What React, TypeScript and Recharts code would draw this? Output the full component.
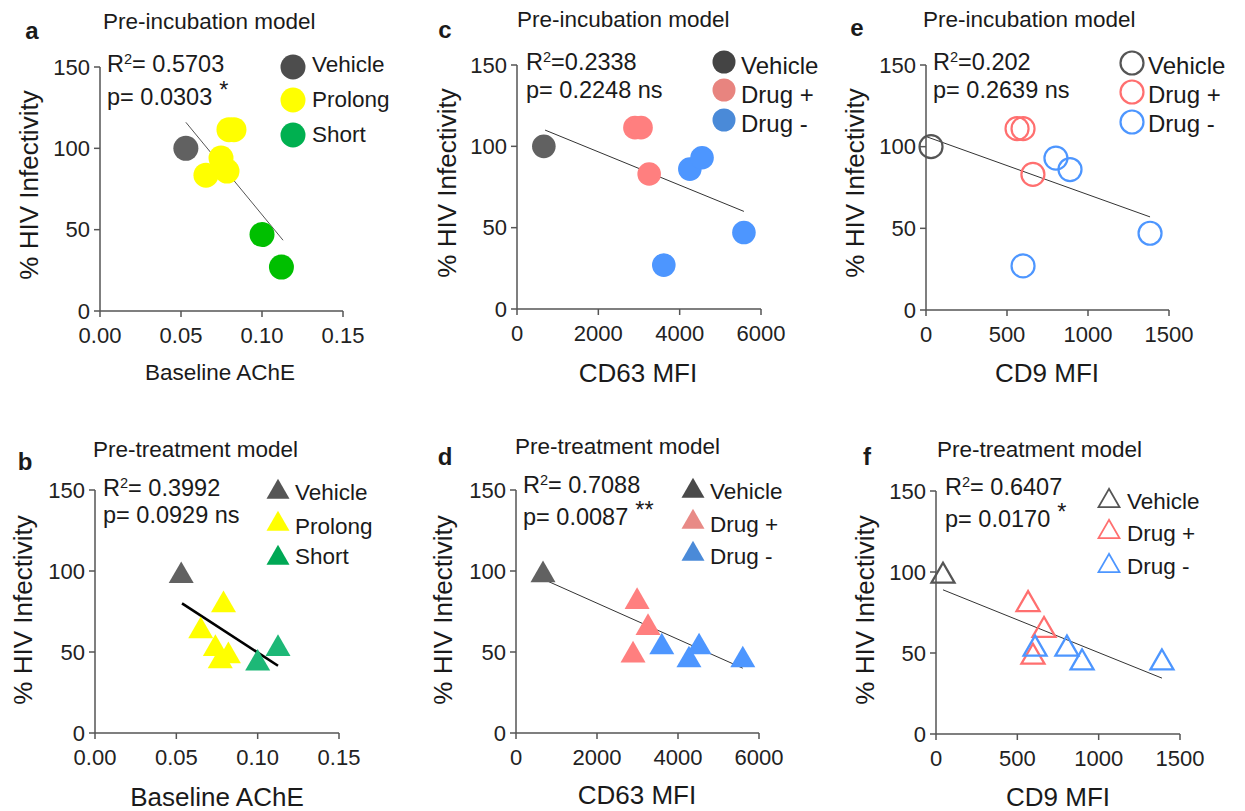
import React from "react";
import { ScatterChart, Scatter, XAxis, YAxis, ReferenceLine } from "recharts";

// ---- data ----
const yTicks = [0, 50, 100, 150];
const acheTicks = [0, 0.05, 0.1, 0.15];
const cd63Ticks = [0, 2000, 4000, 6000];
const cd9Ticks = [0, 500, 1000, 1500];

// a: pre-incubation, baseline AChE
const aVehicle = [{ x: 0.053, y: 100 }];
const aProlong = [
  { x: 0.0796, y: 111.5 },
  { x: 0.0827, y: 111.5 },
  { x: 0.0747, y: 94 },
  { x: 0.0784, y: 86 },
  { x: 0.0654, y: 83.5 },
];
const aShort = [
  { x: 0.1, y: 47 },
  { x: 0.112, y: 27 },
];
const aFit = [
  { x: 0.053, y: 116 },
  { x: 0.113, y: 43.5 },
];

// b: pre-treatment, baseline AChE
const bVehicle = [{ x: 0.053, y: 97 }];
const bProlong = [
  { x: 0.079, y: 79 },
  { x: 0.065, y: 63 },
  { x: 0.074, y: 52 },
  { x: 0.082, y: 47.5 },
  { x: 0.077, y: 44.5 },
];
const bShort = [
  { x: 0.1, y: 43 },
  { x: 0.1125, y: 52 },
];
const bFit = [
  { x: 0.0535, y: 80 },
  { x: 0.1125, y: 41.5 },
];

// c: pre-incubation, CD63
const cVehicle = [{ x: 660, y: 100 }];
const cDrugPlus = [
  { x: 2900, y: 111.5 },
  { x: 3050, y: 111.5 },
  { x: 3250, y: 83 },
];
const cDrugMinus = [
  { x: 4250, y: 86 },
  { x: 4550, y: 93 },
  { x: 5580, y: 47 },
  { x: 3610, y: 27 },
];
const cFit = [
  { x: 690, y: 110 },
  { x: 5580, y: 60 },
];

// d: pre-treatment, CD63
const dVehicle = [{ x: 667, y: 97.5 }];
const dDrugPlus = [
  { x: 2990, y: 81 },
  { x: 3260, y: 65 },
  { x: 2890, y: 48 },
];
const dDrugMinus = [
  { x: 3600, y: 53 },
  { x: 4270, y: 45 },
  { x: 4520, y: 53 },
  { x: 5600, y: 45 },
];
const dFit = [
  { x: 667, y: 95 },
  { x: 5600, y: 40 },
];

// e: pre-incubation, CD9
const eVehicle = [{ x: 31, y: 100 }];
const eDrugPlus = [
  { x: 562, y: 111 },
  { x: 599, y: 111 },
  { x: 660, y: 83 },
];
const eDrugMinus = [
  { x: 802, y: 93 },
  { x: 889, y: 86 },
  { x: 1383, y: 47 },
  { x: 599, y: 27 },
];
const eFit = [
  { x: 6, y: 106 },
  { x: 1383, y: 57 },
];

// f: pre-treatment, CD9
const fVehicle = [{ x: 43, y: 97.5 }];
const fDrugPlus = [
  { x: 566, y: 80 },
  { x: 664, y: 64 },
  { x: 596, y: 47.5 },
];
const fDrugMinus = [
  { x: 609, y: 52.5 },
  { x: 805, y: 52.5 },
  { x: 898, y: 44 },
  { x: 1389, y: 44 },
];
const fFit = [
  { x: 43, y: 89 },
  { x: 1389, y: 34.5 },
];

// ---- styling ----
const FONT = '"Liberation Sans", Arial, sans-serif';
const TEXT = "#1a1a1a";
const AXIS = "#555";
const GRAY = "#616161";
const YELLOW = "#ffff00";
const GREEN = "#00bf00";
const TEAL = "#1db877";
const SALMON = "#ff7f7f";
const BLUE = "#4d96ff";

type Pt = { x: number; y: number };
type Marker = { kind: "circle" | "triangle"; open?: boolean; size: number; sw?: number };
type Series = { name: string; data: Pt[]; color: string; legendColor: string };

const drawMarker = (m: Marker, color: string, cx: number, cy: number, key?: string) => {
  const fill = m.open ? "none" : color;
  const stroke = m.open ? color : "none";
  const sw = m.open ? m.sw ?? 2 : 0;
  if (m.kind === "circle") {
    return <circle key={key} cx={cx} cy={cy} r={m.size} fill={fill} stroke={stroke} strokeWidth={sw} />;
  }
  const s = m.size;
  const h = (s * Math.sqrt(3)) / 2;
  const pts = `${cx},${cy - (2 * h) / 3} ${cx - s / 2},${cy + h / 3} ${cx + s / 2},${cy + h / 3}`;
  return <polygon key={key} points={pts} fill={fill} stroke={stroke} strokeWidth={sw} strokeLinejoin="miter" />;
};

type PanelCfg = {
  letter: string;
  letterPos: [number, number];
  title: string;
  titlePos: [number, number];
  plot: [number, number, number, number];
  xDomain: [number, number];
  xTicks: number[];
  xFmt: (v: number) => string;
  xLabel: string;
  xLabelPos: [number, number];
  xLabelSize: number;
  yLabelPos: [number, number];
  r2: string;
  p: string;
  star?: string;
  statsLeft: number;
  statsRows: [number, number];
  series: Series[];
  fit: Pt[];
  fitWidth: number;
  fitColor: string;
  marker: Marker;
  legendMarker: Marker;
  legendX: number;
  legendMarkerRows: number[];
  legendTextX: number;
  legendTextRows: number[];
  legendSize: number;
};

const YW = 60;
const MT = 15;
const MR = 32;
const XH = 40;

const abs = (left: number, top: number, extra: React.CSSProperties = {}): React.CSSProperties => ({
  position: "absolute",
  left,
  top,
  lineHeight: 1,
  whiteSpace: "nowrap",
  color: TEXT,
  ...extra,
});

const Panel = ({ cfg }: { cfg: PanelCfg }) => {
  const [x0, y0, x1, y1] = cfg.plot;
  const w = x1 - x0 + YW + MR;
  const h = y1 - y0 + MT + XH;
  const m = cfg.marker;
  return (
    <>
      <div style={{ position: "absolute", left: x0 - YW, top: y0 - MT }}>
        <ScatterChart width={w} height={h} margin={{ top: MT, right: MR, bottom: 0, left: 0 }}>
          <XAxis
            type="number"
            dataKey="x"
            domain={cfg.xDomain}
            ticks={cfg.xTicks}
            tickFormatter={cfg.xFmt}
            height={XH}
            tickSize={6}
            tickMargin={10}
            interval={0}
            axisLine={{ stroke: AXIS, strokeWidth: 1.5 }}
            tickLine={{ stroke: AXIS, strokeWidth: 1.5 }}
            tick={{ fontSize: 22, fill: "#222" }}
          />
          <YAxis
            type="number"
            dataKey="y"
            domain={[0, 150]}
            ticks={yTicks}
            width={YW}
            tickSize={6}
            tickMargin={4}
            interval={0}
            axisLine={{ stroke: AXIS, strokeWidth: 1.5 }}
            tickLine={{ stroke: AXIS, strokeWidth: 1.5 }}
            tick={{ fontSize: 22, fill: "#222" }}
          />
          {cfg.series.map((s) => (
            <Scatter
              key={s.name}
              name={s.name}
              data={s.data}
              isAnimationActive={false}
              shape={(p: any) => drawMarker(m, s.color, p.cx, p.cy)}
            />
          ))}
          <ReferenceLine
            segment={[cfg.fit[0], cfg.fit[1]]}
            stroke={cfg.fitColor}
            strokeWidth={cfg.fitWidth}
            ifOverflow="visible"
          />
        </ScatterChart>
      </div>

      <div style={abs(cfg.letterPos[0], cfg.letterPos[1], { fontSize: 24, fontWeight: 700, transform: "translate(-50%,-50%)" })}>
        {cfg.letter}
      </div>
      <div style={abs(cfg.titlePos[0], cfg.titlePos[1], { fontSize: 22.5, transform: "translateY(-50%)" })}>
        {cfg.title}
      </div>

      <div style={abs(cfg.statsLeft, cfg.statsRows[0], { fontSize: 23.5, transform: "translateY(-50%)" })}>
        R<span style={{ fontSize: "0.62em", position: "relative", top: "-0.55em" }}>2</span>
        {cfg.r2}
      </div>
      <div style={abs(cfg.statsLeft, cfg.statsRows[1], { fontSize: 23.5, transform: "translateY(-50%)" })}>
        {cfg.p}
        {cfg.star && (
          <span style={{ position: "relative", top: "-0.3em", marginLeft: "0.3em" }}>{cfg.star}</span>
        )}
      </div>

      <div
        style={abs(cfg.yLabelPos[0], cfg.yLabelPos[1], {
          fontSize: 26,
          transform: "translate(-50%,-50%) rotate(-90deg)",
        })}
      >
        % HIV Infectivity
      </div>
      <div style={abs(cfg.xLabelPos[0], cfg.xLabelPos[1], { fontSize: cfg.xLabelSize, transform: "translate(-50%,-50%)" })}>
        {cfg.xLabel}
      </div>

      <svg style={{ position: "absolute", left: 0, top: 0, overflow: "visible" }} width={1} height={1}>
        {cfg.series.map((s, i) =>
          drawMarker(cfg.legendMarker, s.legendColor, cfg.legendX, cfg.legendMarkerRows[i], s.name)
        )}
      </svg>
      {cfg.series.map((s, i) => (
        <div
          key={s.name}
          style={abs(cfg.legendTextX, cfg.legendTextRows[i], { fontSize: cfg.legendSize, transform: "translateY(-50%)" })}
        >
          {s.name}
        </div>
      ))}
    </>
  );
};

const fmt2 = (v: number) => v.toFixed(2);
const fmt0 = (v: number) => String(v);

const panels: PanelCfg[] = [
  {
    letter: "a",
    letterPos: [32, 31],
    title: "Pre-incubation model",
    titlePos: [103, 22],
    plot: [100, 67, 343, 311],
    xDomain: [0, 0.15],
    xTicks: acheTicks,
    xFmt: fmt2,
    xLabel: "Baseline AChE",
    xLabelPos: [220, 373],
    xLabelSize: 22.5,
    yLabelPos: [29, 185],
    r2: "= 0.5703",
    p: "p= 0.0303",
    star: "*",
    statsLeft: 107,
    statsRows: [65, 98],
    series: [
      { name: "Vehicle", data: aVehicle, color: GRAY, legendColor: "#4d4d4d" },
      { name: "Prolong", data: aProlong, color: YELLOW, legendColor: YELLOW },
      { name: "Short", data: aShort, color: GREEN, legendColor: "#00b050" },
    ],
    fit: aFit,
    fitWidth: 1,
    fitColor: "#555",
    marker: { kind: "circle", size: 12.5 },
    legendMarker: { kind: "circle", size: 12.5 },
    legendX: 293,
    legendMarkerRows: [67, 100, 135],
    legendTextX: 312,
    legendTextRows: [65, 100, 135],
    legendSize: 22.5,
  },
  {
    letter: "c",
    letterPos: [445, 30],
    title: "Pre-incubation model",
    titlePos: [517, 20],
    plot: [517, 65, 761, 309],
    xDomain: [0, 6000],
    xTicks: cd63Ticks,
    xFmt: fmt0,
    xLabel: "CD63 MFI",
    xLabelPos: [638, 373],
    xLabelSize: 26,
    yLabelPos: [447, 183],
    r2: "=0.2338",
    p: "p= 0.2248 ns",
    statsLeft: 526,
    statsRows: [63, 91],
    series: [
      { name: "Vehicle", data: cVehicle, color: GRAY, legendColor: "#444" },
      { name: "Drug +", data: cDrugPlus, color: SALMON, legendColor: "#e8847f" },
      { name: "Drug -", data: cDrugMinus, color: BLUE, legendColor: "#4a8ad8" },
    ],
    fit: cFit,
    fitWidth: 1,
    fitColor: "#333",
    marker: { kind: "circle", size: 11.8 },
    legendMarker: { kind: "circle", size: 11.5 },
    legendX: 724,
    legendMarkerRows: [62, 90, 120],
    legendTextX: 741,
    legendTextRows: [66, 95, 124],
    legendSize: 24,
  },
  {
    letter: "e",
    letterPos: [857, 28],
    title: "Pre-incubation model",
    titlePos: [923, 20],
    plot: [926, 65, 1169, 310],
    xDomain: [0, 1500],
    xTicks: cd9Ticks,
    xFmt: fmt0,
    xLabel: "CD9 MFI",
    xLabelPos: [1047, 373],
    xLabelSize: 26,
    yLabelPos: [855, 183],
    r2: "=0.202",
    p: "p= 0.2639 ns",
    statsLeft: 933,
    statsRows: [63, 91],
    series: [
      { name: "Vehicle", data: eVehicle, color: "#555", legendColor: "#555" },
      { name: "Drug +", data: eDrugPlus, color: "#ff6f6f", legendColor: "#ff6f6f" },
      { name: "Drug -", data: eDrugMinus, color: BLUE, legendColor: BLUE },
    ],
    fit: eFit,
    fitWidth: 1,
    fitColor: "#333",
    marker: { kind: "circle", open: true, size: 11.5, sw: 2.2 },
    legendMarker: { kind: "circle", open: true, size: 11.5, sw: 2.2 },
    legendX: 1132,
    legendMarkerRows: [63, 92, 122],
    legendTextX: 1148,
    legendTextRows: [66, 95, 124],
    legendSize: 24,
  },
  {
    letter: "b",
    letterPos: [25, 462],
    title: "Pre-treatment model",
    titlePos: [93, 450],
    plot: [95, 490, 339, 733],
    xDomain: [0, 0.15],
    xTicks: acheTicks,
    xFmt: fmt2,
    xLabel: "Baseline AChE",
    xLabelPos: [217, 797],
    xLabelSize: 26,
    yLabelPos: [23, 610],
    r2: "= 0.3992",
    p: "p= 0.0929 ns",
    statsLeft: 103,
    statsRows: [489, 516],
    series: [
      { name: "Vehicle", data: bVehicle, color: GRAY, legendColor: "#555" },
      { name: "Prolong", data: bProlong, color: YELLOW, legendColor: YELLOW },
      { name: "Short", data: bShort, color: TEAL, legendColor: "#00a855" },
    ],
    fit: bFit,
    fitWidth: 2.6,
    fitColor: "#000",
    marker: { kind: "triangle", size: 25 },
    legendMarker: { kind: "triangle", size: 23 },
    legendX: 278,
    legendMarkerRows: [492, 524, 558],
    legendTextX: 295,
    legendTextRows: [493, 527, 557],
    legendSize: 22.5,
  },
  {
    letter: "d",
    letterPos: [445, 457],
    title: "Pre-treatment model",
    titlePos: [515, 447],
    plot: [516, 490, 759, 733],
    xDomain: [0, 6000],
    xTicks: cd63Ticks,
    xFmt: fmt0,
    xLabel: "CD63 MFI",
    xLabelPos: [637, 795],
    xLabelSize: 26,
    yLabelPos: [443, 610],
    r2: "= 0.7088",
    p: "p= 0.0087",
    star: "**",
    statsLeft: 523,
    statsRows: [486, 518],
    series: [
      { name: "Vehicle", data: dVehicle, color: GRAY, legendColor: "#4a4a4a" },
      { name: "Drug +", data: dDrugPlus, color: SALMON, legendColor: "#e88a86" },
      { name: "Drug -", data: dDrugMinus, color: BLUE, legendColor: "#4a8ad8" },
    ],
    fit: dFit,
    fitWidth: 1,
    fitColor: "#333",
    marker: { kind: "triangle", size: 25 },
    legendMarker: { kind: "triangle", size: 23 },
    legendX: 693,
    legendMarkerRows: [491, 522, 554],
    legendTextX: 710,
    legendTextRows: [492, 525, 557],
    legendSize: 22.5,
  },
  {
    letter: "f",
    letterPos: [867, 457],
    title: "Pre-treatment model",
    titlePos: [937, 450],
    plot: [936, 491, 1180, 734],
    xDomain: [0, 1500],
    xTicks: cd9Ticks,
    xFmt: fmt0,
    xLabel: "CD9 MFI",
    xLabelPos: [1058, 797],
    xLabelSize: 26,
    yLabelPos: [865, 610],
    r2: "= 0.6407",
    p: "p= 0.0170",
    star: "*",
    statsLeft: 945,
    statsRows: [488, 520],
    series: [
      { name: "Vehicle", data: fVehicle, color: "#555", legendColor: "#555" },
      { name: "Drug +", data: fDrugPlus, color: "#ff6f6f", legendColor: "#ff6f6f" },
      { name: "Drug -", data: fDrugMinus, color: BLUE, legendColor: BLUE },
    ],
    fit: fFit,
    fitWidth: 1,
    fitColor: "#333",
    marker: { kind: "triangle", open: true, size: 23, sw: 2.3 },
    legendMarker: { kind: "triangle", open: true, size: 21, sw: 1.8 },
    legendX: 1109,
    legendMarkerRows: [501, 532, 566],
    legendTextX: 1127,
    legendTextRows: [502, 534, 567],
    legendSize: 22.5,
  },
];

export default function App() {
  return (
    <div
      style={{
        position: "absolute",
        left: 0,
        top: 0,
        width: 1245,
        height: 811,
        background: "#fff",
        fontFamily: FONT,
        overflow: "hidden",
      }}
    >
      {panels.map((cfg) => (
        <Panel key={cfg.letter} cfg={cfg} />
      ))}
    </div>
  );
}
